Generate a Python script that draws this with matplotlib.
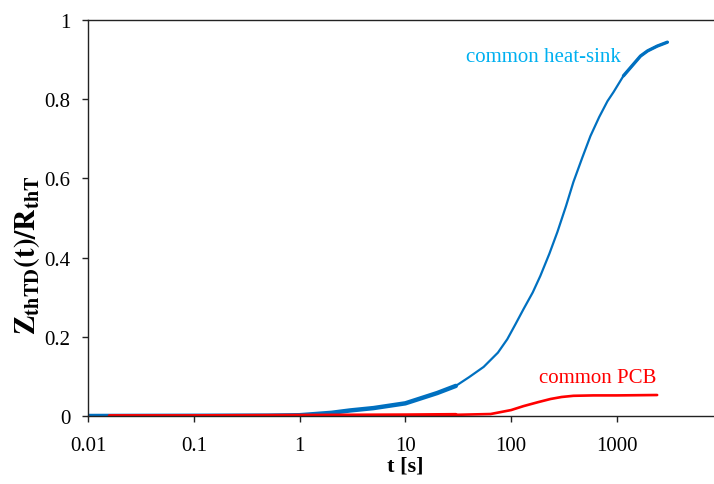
import matplotlib.pyplot as plt
from matplotlib.ticker import FixedLocator, FuncFormatter

plt.rcParams['font.family'] = ['Liberation Serif', 'DejaVu Serif']
plt.rcParams['mathtext.fontset'] = 'stix'

# common heat-sink: dense, noisy part of the record (short times)
hs_t_early = [0.01, 0.1, 0.5, 1, 2, 3, 5, 10, 20, 30]
hs_z_early = [0.0, 0.0005, 0.001, 0.002, 0.008, 0.014, 0.02, 0.032, 0.058, 0.076]
# common heat-sink: smooth part
hs_t = [30, 40, 55, 75, 92, 110, 131, 160, 189, 230, 274, 330, 388, 470, 562,
        680, 814, 929, 1153, 1260, 1671, 1950, 2400, 3000]
hs_z = [0.076, 0.098, 0.124, 0.160, 0.194, 0.232, 0.270, 0.312, 0.354, 0.410,
        0.465, 0.530, 0.591, 0.652, 0.707, 0.755, 0.795, 0.818, 0.859, 0.871,
        0.909, 0.922, 0.934, 0.944]

# common PCB
pcb_t_early = [0.016, 0.1, 1, 10, 30]
pcb_z_early = [0.0, 0.0, 0.001, 0.002, 0.003]
pcb_t = [30, 64, 100, 131, 180, 236, 300, 388, 600, 1000, 2400]
pcb_z = [0.003, 0.005, 0.015, 0.025, 0.035, 0.043, 0.048, 0.051, 0.052, 0.052, 0.053]

x_ticks = [0.01, 0.1, 1, 10, 100, 1000]
x_tick_labels = ['0.01', '0.1', '1', '10', '100', '1000']
y_ticks = [0, 0.2, 0.4, 0.6, 0.8, 1.0]

W, H = 714, 485
fig = plt.figure(figsize=(W / 100, H / 100), dpi=100)
# axes run past the right edge of the figure (x axis ends at 10^4)
ax = fig.add_axes([88 / W, (H - 417) / H, (722.7 - 88) / W, 396 / H])

blue = '#0070C0'
red = '#FF0000'
ax.plot(hs_t_early, hs_z_early, color=blue, lw=3.2, solid_capstyle='round')
ax.plot(hs_t, hs_z, color=blue, lw=1.6, solid_capstyle='round',
        solid_joinstyle='round')
ax.plot(hs_t[-6:], hs_z[-6:], color=blue, lw=2.4, solid_capstyle='round',
        solid_joinstyle='round')
ax.plot(pcb_t_early, pcb_z_early, color=red, lw=2.8, solid_capstyle='round')
ax.plot(pcb_t, pcb_z, color=red, lw=1.9, solid_capstyle='round',
        solid_joinstyle='round')

ax.set_xscale('log')
ax.set_xlim(0.01, 1e4)
ax.set_ylim(0, 1)
ax.xaxis.set_major_locator(FixedLocator(x_ticks))
ax.set_xticklabels(x_tick_labels)
ax.xaxis.set_minor_locator(FixedLocator([]))
ax.yaxis.set_major_locator(FixedLocator(y_ticks))
ax.yaxis.set_major_formatter(FuncFormatter(lambda v, p: f'{v:g}'))

for side in ['left', 'bottom', 'top']:
    ax.spines[side].set_linewidth(1.0)
    ax.spines[side].set_color('#222222')
ax.spines['right'].set_visible(False)
ax.tick_params(axis='both', direction='out', length=4.5, width=1.0,
               labelsize=15, color='#222222')
ax.tick_params(axis='x', pad=10)
ax.tick_params(axis='y', pad=8)

fig.text(543 / W, 1 - 57 / H, 'common heat-sink', color='#00B0F0',
         fontsize=15, ha='center', va='center')
fig.text(598 / W, 1 - 379 / H, 'common PCB', color=red, fontsize=15,
         ha='center', va='center')

fig.text(405 / W, 1 - 467 / H, 't [s]', fontsize=16, fontweight='bold',
         ha='center', va='center')
fig.text(27 / W, 1 - 255 / H, r'$\mathbf{Z_{thTD}(t)/R_{thT}}$', fontsize=21,
         rotation=90, ha='center', va='center')

fig.savefig('out.png', dpi=100)
